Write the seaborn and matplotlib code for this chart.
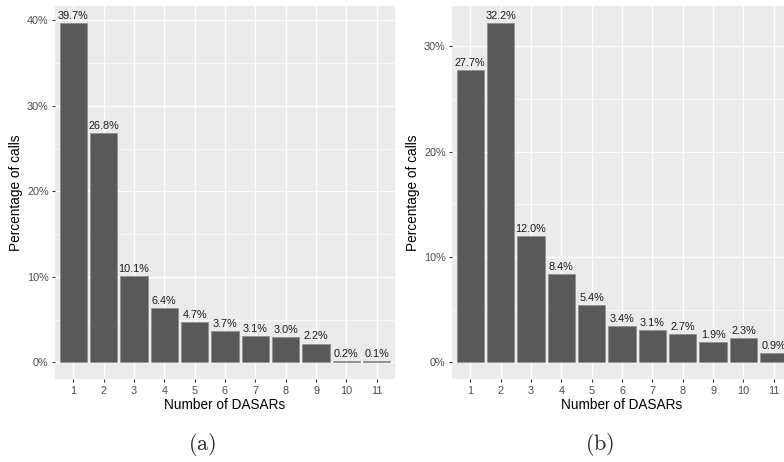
import matplotlib
matplotlib.use("Agg")
import matplotlib.pyplot as plt
from matplotlib.ticker import MultipleLocator, FuncFormatter
import seaborn as sns
import pandas as pd

# Number of DASARs that detected each call, and the share of calls (percent)
dasars = ["1", "2", "3", "4", "5", "6", "7", "8", "9", "10", "11"]
pct_a = [39.7, 26.8, 10.1, 6.4, 4.7, 3.7, 3.1, 3.0, 2.2, 0.2, 0.1]
pct_b = [27.7, 32.2, 12.0, 8.4, 5.4, 3.4, 3.1, 2.7, 1.9, 2.3, 0.9]
captions = ["(a)", "(b)"]

sns.set_theme(style="darkgrid", rc={
    "axes.facecolor": "#EBEBEB",
    "grid.color": "white",
    "axes.edgecolor": "#EBEBEB",
    "axes.linewidth": 0,
})
plt.rcParams["font.family"] = ["Liberation Sans", "DejaVu Sans"]
plt.rcParams["mathtext.fontset"] = "cm"

fig = plt.figure(figsize=(7.84, 4.62), dpi=100)
W, H = 784, 462
panels = [(55, pct_a), (452, pct_b)]
caption_x = [202, 600]

for i, (left_px, values) in enumerate(panels):
    ax = fig.add_axes([left_px / W, 1 - 379.3 / H, 340 / W, 373.3 / H])
    df = pd.DataFrame({"n": dasars, "pct": values})
    sns.barplot(data=df, x="n", y="pct", order=dasars, color="#595959",
                saturation=1, width=0.9, edgecolor="#8c8c8c", linewidth=0.5,
                ax=ax, zorder=3)
    top = max(values)
    ax.set_ylim(-0.05 * top, 1.05 * top)
    ax.set_xlim(-0.6, len(dasars) - 0.4)
    ax.yaxis.set_major_locator(MultipleLocator(10))
    ax.yaxis.set_minor_locator(MultipleLocator(5))
    ax.yaxis.set_major_formatter(FuncFormatter(lambda v, p: f"{v:.0f}%"))
    ax.grid(which="major", color="white", linewidth=1.0, zorder=0)
    ax.grid(which="minor", axis="y", color="white", linewidth=0.5, zorder=0)
    ax.set_axisbelow(True)
    ax.tick_params(axis="both", which="major", length=2.5, width=0.8,
                   color="#333333", labelcolor="#4D4D4D", labelsize=7.8, pad=2)
    ax.tick_params(axis="both", which="minor", length=0)
    ax.tick_params(axis="both", bottom=True, left=True)
    for s in ax.spines.values():
        s.set_visible(False)
    ax.set_xlabel("Number of DASARs", fontsize=9.8, color="black", labelpad=2)
    ax.set_ylabel("Percentage of calls", fontsize=9.8, color="black", labelpad=3)

    for k, v in enumerate(values):
        ax.annotate(f"{v:.1f}%", xy=(k, v), xytext=(0, 1.5),
                    textcoords="offset points", ha="center", va="bottom",
                    fontsize=7.8, color="#1a1a1a", zorder=4)

    fig.text(caption_x[i] / W, 1 - 444 / H, rf"$\mathrm{{{captions[i]}}}$",
             ha="center", va="center", fontsize=16)

fig.savefig("out.png", dpi=100)
